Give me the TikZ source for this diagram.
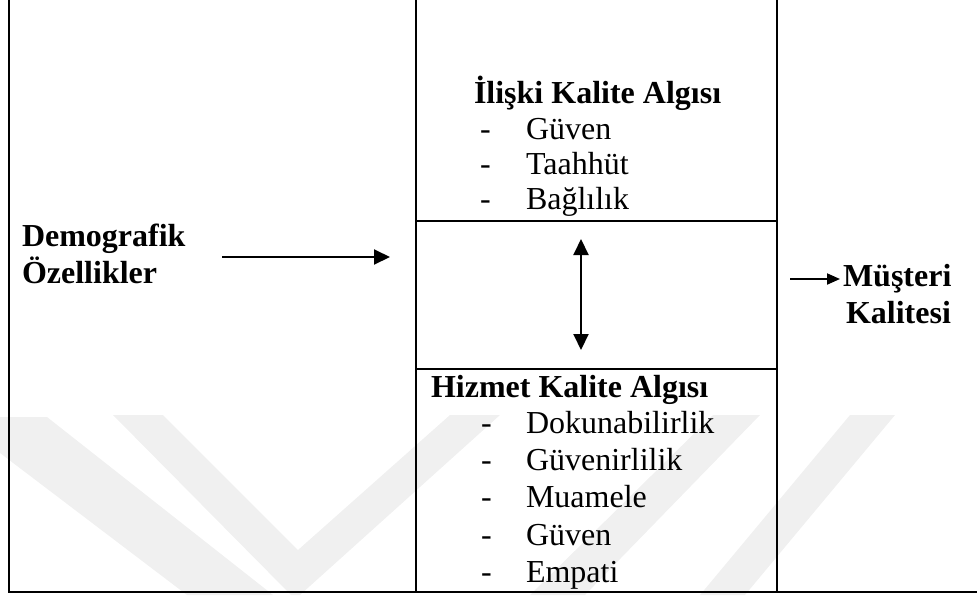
\documentclass[tikz,border=0pt]{standalone}
\usepackage{fontspec}
\setmainfont{Liberation Serif}
\usetikzlibrary{arrows.meta}
\tikzset{
  frame/.style={line width=2pt, line cap=rect},
  wmark/.style={fill=black!6, draw=none},
  lbl/.style={anchor=base west, inner sep=0pt, outer sep=0pt, font=\fontsize{32}{37}\selectfont},
  hd/.style={lbl, font=\fontsize{32}{37}\selectfont\bfseries},
  arr/.style={line width=2pt, -{Triangle[length=16pt,width=15pt]}},
  darr/.style={line width=2pt, {Triangle[length=16pt,width=15pt]}-{Triangle[length=16pt,width=15pt]}},
  sarr/.style={line width=2pt, -{Triangle[length=13pt,width=11pt]}}
}
\begin{document}
\begin{tikzpicture}[x=1pt, y=-1pt]
\useasboundingbox (0,0) rectangle (977,595);
% watermark
\fill[wmark] (0,417) -- (47,417) -- (273,595) -- (187,595) -- (0,453) -- cycle;
\fill[wmark] (113,415) -- (163,415) -- (298,550) -- (450,415) -- (500,415) -- (300,595) -- (291,595) -- cycle;
\fill[wmark] (713,415) -- (760,415) -- (585,595) -- (530,595) -- cycle;
\fill[wmark] (850,415) -- (895,415) -- (745,595) -- (700,595) -- cycle;
% frame
\draw[frame] (9,0) -- (9,592) -- (977,592);
\draw[frame] (416,0) -- (416,592);
\draw[frame] (777,0) -- (777,592);
\draw[frame] (416,221) -- (777,221);
\draw[frame] (416,369) -- (777,369);
% left
\node[hd] (dem1) at (22,246) {Demografik};
\node[hd] (dem2) at (22,283) {Özellikler};
% top middle
\node[hd] (ika) at (474,103) {İlişki Kalite Algısı};
\node[lbl] (d1) at (480,139) {-};
\node[lbl] (i1) at (526,139) {Güven};
\node[lbl] (d2) at (480,174) {-};
\node[lbl] (i2) at (526,174) {Taahhüt};
\node[lbl] (d3) at (480,209) {-};
\node[lbl] (i3) at (526,209) {Bağlılık};
% bottom middle
\node[hd] (hka) at (431,397) {Hizmet Kalite Algısı};
\node[lbl] (e1) at (481,433) {-};
\node[lbl] (j1) at (526,433) {Dokunabilirlik};
\node[lbl] (e2) at (481,470) {-};
\node[lbl] (j2) at (526,470) {Güvenirlilik};
\node[lbl] (e3) at (481,507) {-};
\node[lbl] (j3) at (526,507) {Muamele};
\node[lbl] (e4) at (481,545) {-};
\node[lbl] (j4) at (526,545) {Güven};
\node[lbl] (e5) at (481,582) {-};
\node[lbl] (j5) at (526,582) {Empati};
% right
\node[hd] (mk1) at (843,286) {Müşteri};
\node[hd] (mk2) at (846,323) {Kalitesi};
% arrows
\coordinate (a1s) at (222,257);
\coordinate (a1e) at (390,257);
\coordinate (a2s) at (581,239);
\coordinate (a2e) at (581,350);
\coordinate (a3s) at (790,279);
\coordinate (a3e) at (840,279);
\draw[arr] (a1s) -- (a1e);
\draw[darr] (a2s) -- (a2e);
\draw[sarr] (a3s) -- (a3e);
\end{tikzpicture}
\end{document}
